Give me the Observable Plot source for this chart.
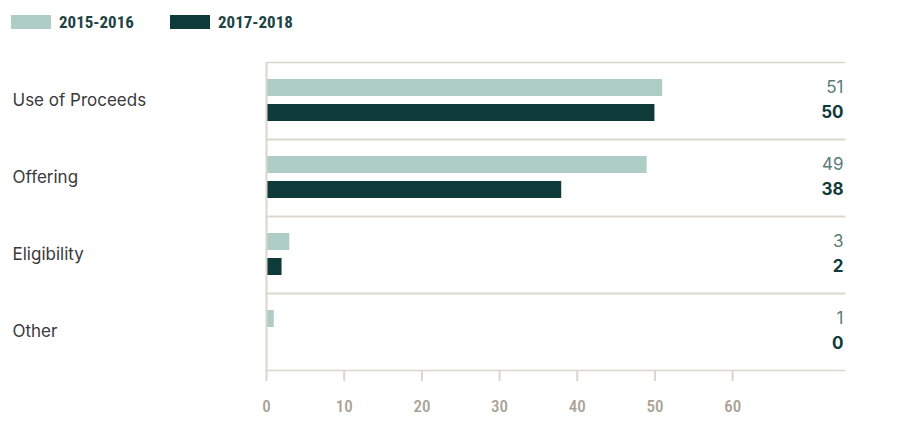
<!DOCTYPE html>
<html>
<head>
<meta charset="utf-8">
<script src="https://cdn.jsdelivr.net/npm/d3@7"></script>
<script src="https://cdn.jsdelivr.net/npm/@observablehq/plot@0.6"></script>
<style>
  body { margin: 0; background: #fff; }
  #legend { height: 40px; position: relative; font-family: "Roboto", sans-serif; font-stretch: condensed; font-weight: bold; font-size: 17px; color: #1d4443; }
  .item { position: absolute; top: 2px; height: 40px; display: flex; align-items: center; }
  .sw { width: 40px; height: 14px; margin-right: 8px; }
</style>
</head>
<body>
<div id="legend"></div>
<div id="chart"></div>
<script>
const categories = ["Use of Proceeds", "Offering", "Eligibility", "Other"];
const series = ["2015-2016", "2017-2018"];
const values2015 = [51, 49, 3, 1];
const values2017 = [50, 38, 2, 0];
const xTicks = [0, 10, 20, 30, 40, 50, 60];
const colors = ["#aecdc6", "#0e3b3a"];
const labelColors = ["#5b7b78", "#0e3b3a"];

const data = [];
categories.forEach((c, i) => {
  data.push({category: c, series: series[0], value: values2015[i]});
  data.push({category: c, series: series[1], value: values2017[i]});
});

// legend
const legend = document.getElementById("legend");
const lefts = [11, 170];
series.forEach((s, i) => {
  const it = document.createElement("div");
  it.className = "item";
  it.style.left = lefts[i] + "px";
  it.innerHTML = `<div class="sw" style="background:${colors[i]}"></div><span>${s}</span>`;
  legend.appendChild(it);
});

const lineColor = "#dbd5cb";

const chart = Plot.plot({
  width: 900,
  height: 402,
  marginLeft: 266,
  marginRight: 56,
  marginTop: 22,
  marginBottom: 72,
  style: {fontFamily: "Inter, sans-serif", background: "#fff"},
  x: {domain: [0, 74.4], axis: null, label: null},
  fy: {domain: categories, padding: 0, axis: null},
  y: {domain: series, paddingInner: 0.314, paddingOuter: 0.667, axis: null},
  color: {domain: series, range: colors},
  marks: [
    Plot.frame({anchor: "top", stroke: lineColor, strokeWidth: 1.5}),
    Plot.frame({anchor: "bottom", stroke: lineColor, strokeWidth: 1.5}),
    Plot.barX(data, {fy: "category", y: "series", x: "value", fill: "series"}),
    Plot.ruleX([0], {stroke: lineColor, strokeWidth: 2}),
    Plot.text(categories, {fy: d => d, text: d => d, frameAnchor: "left", textAnchor: "start", dx: -254, fontSize: 17, fill: "#3a3a3a"}),
    Plot.text(data.filter(d => d.series === series[0]), {fy: "category", y: "series", text: d => String(d.value), frameAnchor: "right", textAnchor: "end", dx: -1, fontSize: 17, fill: labelColors[0]}),
    Plot.text(data.filter(d => d.series === series[1]), {fy: "category", y: "series", text: d => String(d.value), frameAnchor: "right", textAnchor: "end", dx: -1, fontSize: 17, fontWeight: "bold", fill: labelColors[1]}),
    Plot.axisX(xTicks, {anchor: "bottom", label: null, tickSize: 11, tickPadding: 18, stroke: lineColor, strokeWidth: 2, fontSize: 17, fontWeight: 500, fill: "#a9a196", facetAnchor: "bottom"})
  ]
});
d3.select(chart).selectAll("g[aria-label*='tick label']")
  .style("font-family", "Roboto, sans-serif").style("font-stretch", "condensed");
document.getElementById("chart").appendChild(chart);
</script>
</body>
</html>
